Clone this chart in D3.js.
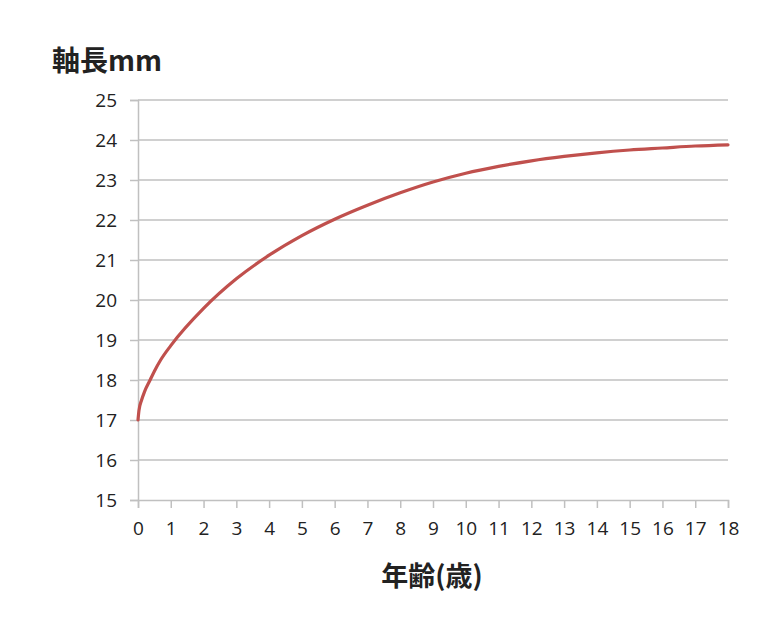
<!DOCTYPE html>
<html><head><meta charset="utf-8">
<script src="https://cdn.jsdelivr.net/npm/d3@7"></script>
<style>body{margin:0;background:#fff;}</style>
</head><body>
<svg id="c" width="760" height="624"></svg>
<script>
const ages   = [0, 0.03, 0.11, 0.2, 0.37, 0.5, 0.69, 1, 2, 3, 4, 5, 6, 7, 8, 9, 10, 11, 12, 13, 14, 15, 16, 17, 18];
const length = [17, 17.24, 17.5, 17.71, 18, 18.22, 18.5, 18.86, 19.79, 20.53, 21.12, 21.61, 22.02, 22.37, 22.68, 22.95, 23.17, 23.34, 23.48, 23.59, 23.68, 23.75, 23.8, 23.85, 23.88];
const xTicks = d3.range(0, 19);
const yTicks = d3.range(15, 26);
const yTitle = "軸長mm";
const xTitle = "年齢(歳)";

const svg = d3.select("#c");
const L = 138, R = 728, T = 100, B = 500;
const x = d3.scaleLinear().domain([0, 18]).range([L, R]);
const y = d3.scaleLinear().domain([15, 25]).range([B, T]);
const grid = "#c0c0c0";
const font = "'Open Sans','Noto Sans',sans-serif";

// gridlines
svg.append("g").selectAll("line").data(yTicks.filter(d => d > 15)).join("line")
  .attr("x1", L).attr("x2", R).attr("y1", d => y(d)).attr("y2", d => y(d))
  .attr("stroke", grid).attr("stroke-width", 1.5);

// y axis
const ya = svg.append("g").attr("transform", `translate(${L},0)`)
  .call(d3.axisLeft(y).tickValues(yTicks).tickSize(8).tickPadding(13));
ya.select(".domain").attr("stroke", grid).attr("stroke-width", 1.5);
ya.selectAll(".tick line").attr("stroke", grid).attr("stroke-width", 1.5);
ya.selectAll("text").attr("font-family", font).attr("font-size", 19).attr("fill", "#222");

// x axis
const xa = svg.append("g").attr("transform", `translate(0,${B})`)
  .call(d3.axisBottom(x).tickValues(xTicks).tickSize(8).tickPadding(14));
xa.select(".domain").attr("stroke", grid).attr("stroke-width", 1.5);
xa.selectAll(".tick line").attr("stroke", grid).attr("stroke-width", 1.5);
xa.selectAll("text").attr("font-family", font).attr("font-size", 19).attr("fill", "#222");

// curve
const pts = ages.map((a, i) => [a, length[i]]);
svg.append("path").datum(pts)
  .attr("d", d3.line().x(d => x(d[0])).y(d => y(d[1])).curve(d3.curveMonotoneX))
  .attr("fill", "none").attr("stroke", "#c0504d").attr("stroke-width", 3.2)
  .attr("stroke-linecap", "round").attr("stroke-linejoin", "round");

// titles
svg.append("text").attr("x", 52).attr("y", 71).text(yTitle)
  .attr("font-family", "'Noto Sans CJK JP',sans-serif").attr("font-size", 28).attr("font-weight", "bold").attr("fill", "#222");
svg.append("text").attr("x", 432).attr("y", 586).attr("text-anchor", "middle").text(xTitle)
  .attr("font-family", "'Noto Sans CJK JP',sans-serif").attr("font-size", 27).attr("font-weight", "bold").attr("fill", "#222");
</script>
</body></html>
